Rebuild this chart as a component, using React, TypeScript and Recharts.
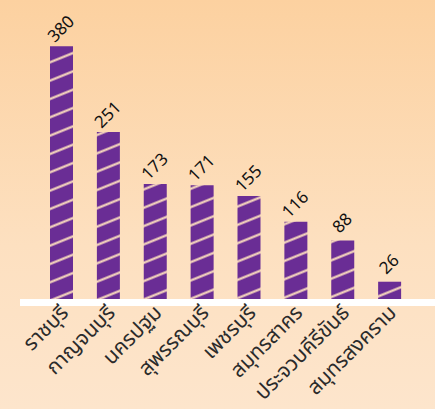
import { BarChart, Bar, XAxis, YAxis, LabelList } from 'recharts';

// จำนวนผู้ป่วยแยกตามจังหวัด
const provinces = [
  'ราชบุรี',
  'กาญจนบุรี',
  'นครปฐม',
  'สุพรรณบุรี',
  'เพชรบุรี',
  'สมุทรสาคร',
  'ประจวบคีรีขันธ์',
  'สมุทรสงคราม',
];
const counts = [380, 251, 173, 171, 155, 116, 88, 26];

const data = provinces.map((name, i) => ({ name, value: counts[i] }));

const PURPLE = '#6a2d95';
const FONT = "Tahoma, 'Noto Sans Thai', 'Noto Sans', 'DejaVu Sans', sans-serif";

const ProvinceTick = ({ x, y, payload }: any) => (
  <g transform={`translate(${x + 8},${y + 13}) rotate(-45)`}>
    <text x={0} y={0} textAnchor="end" fontSize={21} fill="#2b2b2b" fontFamily={FONT}>
      {payload.value}
    </text>
  </g>
);

const ValueLabel = (props: any) => {
  const { x, y, width, value } = props;
  const cx = Number(x) + Number(width) / 2;
  const cy = Number(y) - 17;
  return (
    <g transform={`translate(${cx},${cy}) rotate(-45)`}>
      <text
        x={0}
        y={0}
        textAnchor="middle"
        dominantBaseline="central"
        fontSize={17}
        fill="#111"
        fontFamily={FONT}
      >
        {value}
      </text>
    </g>
  );
};

export default function App() {
  return (
    <div
      style={{
        position: 'fixed',
        top: 0,
        left: 0,
        width: 435,
        height: 409,
        background: 'linear-gradient(180deg, #fcd1a0 0%, #fde0c0 60%, #fde5cc 100%)',
      }}
    >
      <BarChart
        width={435}
        height={409}
        data={data}
        margin={{ top: 33, right: 0, left: 20, bottom: 0 }}
        barSize={23}
      >
        <defs>
          <pattern
            id="stripes"
            patternUnits="userSpaceOnUse"
            width={20}
            height={17}
            patternTransform="rotate(-22)"
          >
            <rect x={0} y={0} width={20} height={17} fill={PURPLE} />
            <line x1={-2} y1={8.5} x2={22} y2={8.5} stroke="#fbdcbe" strokeWidth={2.2} />
          </pattern>
        </defs>
        <XAxis
          dataKey="name"
          height={110}
          interval={0}
          tickLine={false}
          tickSize={0}
          tick={<ProvinceTick />}
          padding={{ left: 18, right: 22 }}
          axisLine={{ stroke: '#ffffff', strokeWidth: 7, transform: 'translate(0,3.5)' }}
        />
        <YAxis hide domain={[0, 400]} />
        <Bar dataKey="value" fill="url(#stripes)" isAnimationActive={false}>
          <LabelList dataKey="value" content={<ValueLabel />} />
        </Bar>
      </BarChart>
    </div>
  );
}
